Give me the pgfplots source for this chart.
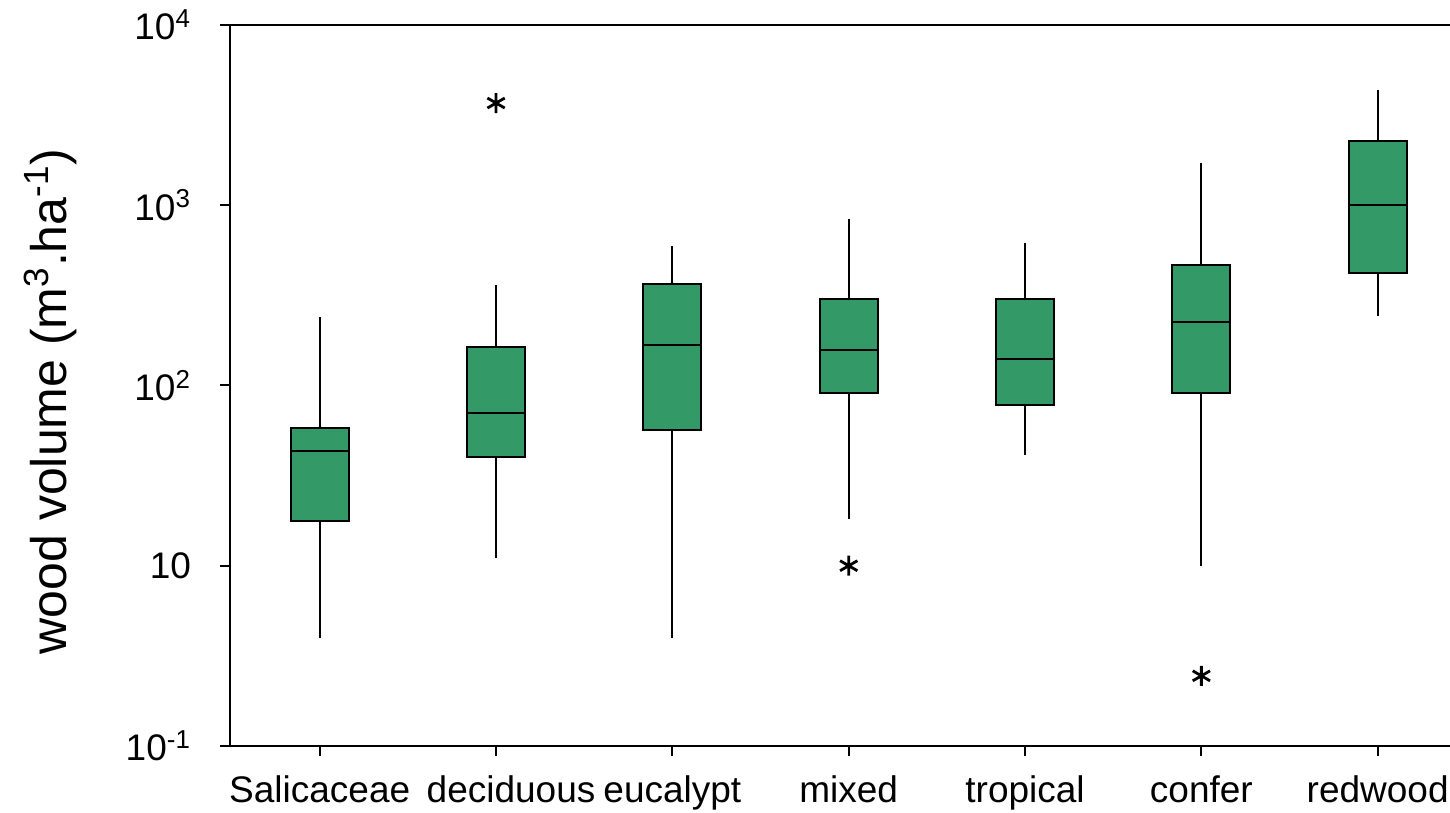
\documentclass[border=0pt]{standalone}
\usepackage{fontspec}
\setmainfont{Liberation Sans}
\usepackage{pgfplots}
\pgfplotsset{compat=1.18}
\usepgfplotslibrary{statistics}
\usetikzlibrary{calc}
\definecolor{boxgreen}{RGB}{51,153,102}

\begin{document}
\begin{tikzpicture}
\begin{axis}[
    name=ax,
    scale only axis,
    width=610pt,
    height=360.5pt,
    ymode=log,
    ymin=1, ymax=10000,
    xmin=-0.509, xmax=6.41,
    clip=false,
    axis x line*=bottom,
    axis y line*=left,
    axis line style={-, line width=1pt, black},
    tick style={line width=1pt, black},
    tick align=outside,
    major tick length=5pt,
    minor y tick style={draw=none},
    xtick={0,1,2,3,4,5,6},
    xticklabels={Salicaceae,\hspace*{15pt}deciduous,eucalypt,mixed,tropical,confer,redwood},
    ytick={1,10,100,1000,10000},
    yticklabels={10\textsuperscript{-1},10,10\textsuperscript{2},10\textsuperscript{3},10\textsuperscript{4}},
    ticklabel style={font=\fontsize{18.5}{22}\selectfont},
    yticklabel style={xshift=-11pt},
    xticklabel style={yshift=-6.5pt},
    ylabel={wood volume (m\textsuperscript{3}.ha\textsuperscript{-1})},
    every axis y label/.style={at={(rel axis cs:0,0.5)}, xshift=-90pt, yshift=-8pt,
        rotate=90, anchor=center, font=\fontsize{25}{30}\selectfont},
    boxplot/draw direction=y,
    boxplot/box extend=0.33,
    boxplot/whisker extend=0,
    every axis plot/.append style={draw=black, fill=boxgreen, line width=1pt,
        mark=asterisk, mark size=5pt, mark options={draw=black, line width=1.4pt}},
]
% Salicaceae
\addplot[boxplot prepared={draw position=0, lower whisker=3.97, lower quartile=17.7,
    median=43.3, upper quartile=58, upper whisker=240}] coordinates {};
% deciduous
\addplot[boxplot prepared={draw position=1, lower whisker=11.0, lower quartile=40.1,
    median=70.4, upper quartile=164, upper whisker=361}] coordinates {(1,3690)};
% eucalypt
\addplot[boxplot prepared={draw position=2, lower whisker=3.97, lower quartile=56.6,
    median=168, upper quartile=366, upper whisker=594}] coordinates {};
% mixed
\addplot[boxplot prepared={draw position=3, lower whisker=18.2, lower quartile=90.9,
    median=157, upper quartile=302, upper whisker=839}] coordinates {(3,10)};
% tropical
\addplot[boxplot prepared={draw position=4, lower whisker=41.2, lower quartile=78,
    median=140, upper quartile=302, upper whisker=617}] coordinates {};
% confer
\addplot[boxplot prepared={draw position=5, lower whisker=10, lower quartile=90.9,
    median=225, upper quartile=466, upper whisker=1716}] coordinates {(5,2.45)};
% redwood
\addplot[boxplot prepared={draw position=6, lower whisker=243, lower quartile=421,
    median=1003, upper quartile=2271, upper whisker=4360}] coordinates {};
% top frame line
\draw[line width=1pt, black] (rel axis cs:0,1) -- (rel axis cs:1,1);
\end{axis}
\pgfresetboundingbox
\path[use as bounding box] ($(ax.south west)+(-115pt,-33.5pt)$) rectangle ($(ax.north east)+(0,12.5pt)$);
\end{tikzpicture}
\end{document}
